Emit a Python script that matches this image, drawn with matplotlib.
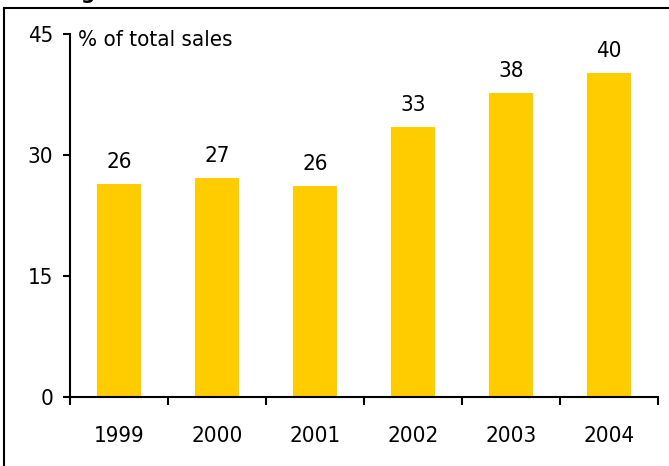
import matplotlib
matplotlib.use("Agg")
import matplotlib.pyplot as plt
from matplotlib.lines import Line2D

# data
years = ["1999", "2000", "2001", "2002", "2003", "2004"]
share = [26.4, 27.2, 26.1, 33.5, 37.7, 40.2]
share_labels = ["26", "27", "26", "33", "38", "40"]
y_ticks = [0, 15, 30, 45]

bar_color = "#FFCC00"
fs = 16

plt.rcParams['font.family'] = ['DejaVu Sans']
plt.rcParams['font.stretch'] = 'condensed'

W, H = 669, 466
fig = plt.figure(figsize=(W / 100, H / 100), dpi=100)
ax = fig.add_axes([70 / W, (H - 397) / H, 588 / W, 363 / H])

x = list(range(len(years)))
ax.bar(x, share, width=0.45, color=bar_color, zorder=2)

for xi, v, lab in zip(x, share, share_labels):
    ax.annotate(lab, (xi, v), xytext=(0, 11.5), textcoords="offset points",
                ha="center", va="baseline", fontsize=fs)

ax.set_xlim(-0.5, len(years) - 0.5)
ax.set_ylim(0, 45)
ax.set_yticks(y_ticks)
ax.set_yticklabels([str(t) for t in y_ticks], fontsize=fs)

# category boundaries get the tick marks, labels sit between them
ax.set_xticks([i - 0.5 for i in range(len(years) + 1)])
ax.set_xticklabels([])
ax.set_xticks(x, minor=True)
ax.set_xticklabels(years, minor=True, fontsize=fs)
ax.tick_params(axis="x", which="major", direction="out", length=6, width=1.5)
ax.tick_params(axis="x", which="minor", length=0, pad=21)
ax.tick_params(axis="y", direction="out", length=5, width=1.5, pad=7)

for s in ["top", "right"]:
    ax.spines[s].set_visible(False)
for s in ["left", "bottom"]:
    ax.spines[s].set_linewidth(1.5)

ax.text(8 / 588, (397 - 40) / 363, "% of total sales", transform=ax.transAxes,
        fontsize=fs, ha="left", va="center")

# frame around the chart (only top and left edges are inside the picture)
fig.add_artist(Line2D([4 / W, 1.0], [1 - 8 / H, 1 - 8 / H], color="black",
                      lw=1.5, transform=fig.transFigure))
fig.add_artist(Line2D([4 / W, 4 / W], [0, 1 - 8 / H], color="black",
                      lw=1.5, transform=fig.transFigure))

# cut-off title above the frame
fig.text(80 / W, 1.0 + 1 / H, "g", fontsize=16, fontweight="bold",
         ha="left", va="baseline")

fig.savefig("out.png", dpi=100)
